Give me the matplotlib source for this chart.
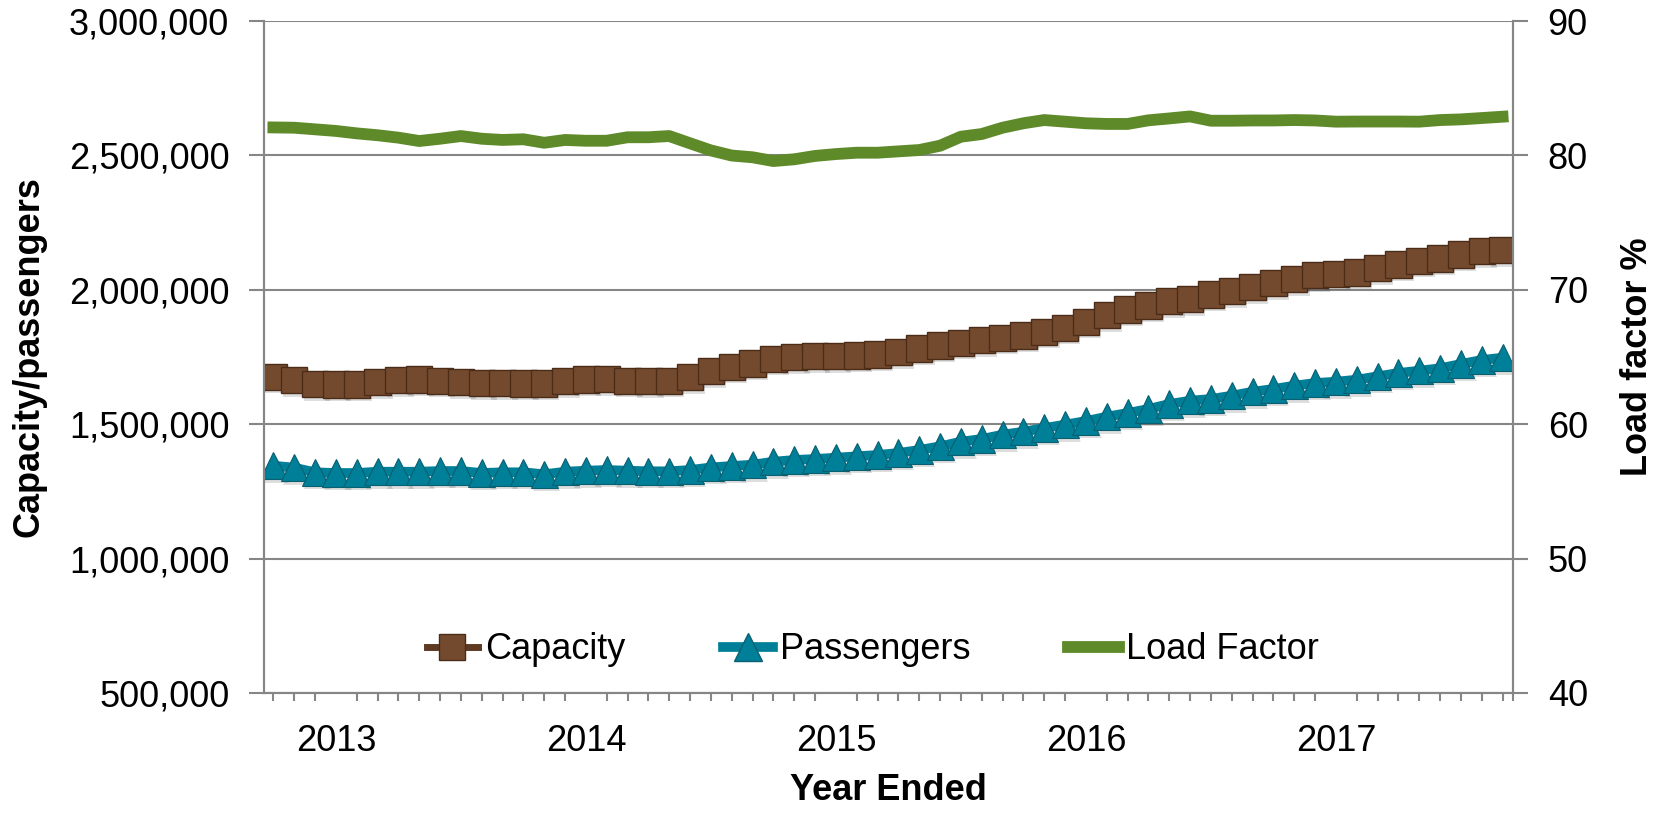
import numpy as np
import pandas as pd
import matplotlib
matplotlib.use("Agg")
import matplotlib.pyplot as plt
import matplotlib.patheffects as pe
from matplotlib.lines import Line2D

plt.rcParams["font.family"] = ["Liberation Sans", "DejaVu Sans"]

# ---------------- Data ----------------
# monthly, year ended Oct 2012 .. Sep 2017
months = pd.date_range("2012-10-01", periods=60, freq="MS")

capacity = [
    1676700, 1664000, 1649500, 1648000, 1648000, 1657000, 1663300, 1665600, 1661800, 1657000,
    1653000, 1653000, 1652000, 1652000, 1659600, 1665600, 1668000, 1661800, 1660700, 1661800,
    1674800, 1697000, 1713500, 1725800, 1743300, 1748900, 1752600, 1752600, 1755600, 1759300,
    1767500, 1780900, 1793500, 1803200, 1813200, 1821800, 1830000, 1843700, 1859000, 1880900,
    1906200, 1926000, 1941600, 1958000, 1966000, 1981800, 1994400, 2010300, 2025200, 2040100,
    2055000, 2059800, 2065000, 2080000, 2094800, 2108200, 2117100, 2132000, 2144300, 2147000,
]

passengers = [
    1345600, 1338100, 1321000, 1318400, 1318400, 1323200, 1323200, 1323200, 1325800, 1325800,
    1318400, 1321000, 1321000, 1313600, 1323200, 1327000, 1329600, 1327000, 1324700, 1324700,
    1329600, 1339000, 1344500, 1349300, 1360400, 1366800, 1370500, 1375300, 1380500, 1385400,
    1392800, 1404000, 1417700, 1434800, 1444900, 1460900, 1472000, 1485800, 1498100, 1511800,
    1527800, 1541600, 1556500, 1575100, 1587400, 1593700, 1606000, 1620800, 1630900, 1643200,
    1653200, 1658000, 1665500, 1678100, 1690400, 1699000, 1707900, 1723900, 1738800, 1747300,
]

load_factor = [
    82.08, 82.06, 81.94, 81.82, 81.64, 81.50, 81.32, 81.07, 81.24, 81.44,
    81.24, 81.15, 81.20, 80.94, 81.15, 81.09, 81.09, 81.35, 81.35, 81.44,
    80.90, 80.37, 79.99, 79.86, 79.58, 79.71, 79.96, 80.10, 80.20, 80.20,
    80.30, 80.40, 80.72, 81.39, 81.59, 82.06, 82.39, 82.63, 82.51, 82.39,
    82.34, 82.34, 82.61, 82.75, 82.90, 82.58, 82.58, 82.60, 82.60, 82.63,
    82.60, 82.51, 82.52, 82.52, 82.52, 82.51, 82.63, 82.68, 82.78, 82.88,
]

left_ticks = [500000, 1000000, 1500000, 2000000, 2500000, 3000000]
right_ticks = [40, 50, 60, 70, 80, 90]

# ---------------- Styles ----------------
BROWN = "#744a2e"
BROWN_EDGE = "#4a2c18"
BROWN_LINE = "#5e3a22"
TEAL = "#007f98"
TEAL_EDGE = "#0a5f70"
GREEN = "#5e8a2a"
GRID = "#868686"
FS = 26

x = np.arange(len(months))

fig = plt.figure(figsize=(16.65, 8.15), dpi=100)
ax = fig.add_axes([264 / 1665, 1 - 693 / 815, 1249 / 1665, 672 / 815])
ax2 = ax.twinx()

# soft drop shadow under the markers
shadow = [pe.SimplePatchShadow(offset=(1.5, -2.5), shadow_rgbFace="k", alpha=0.13), pe.Normal()]

# capacity
ax.plot(x, capacity, color=BROWN_LINE, lw=5, zorder=2)
ax.plot(x, capacity, ls="none", marker="s", ms=19, mfc=BROWN, mec=BROWN_EDGE,
        mew=1.0, zorder=3, path_effects=shadow)

# passengers
ax.plot(x, passengers, color=TEAL, lw=7, zorder=2)
ax.plot(x, passengers, ls="none", marker="^", ms=19.5, mfc=TEAL, mec=TEAL_EDGE,
        mew=0.8, zorder=3, path_effects=shadow)

# load factor
ax2.plot(x, load_factor, color=GREEN, lw=8.5, solid_joinstyle="round", zorder=3)

# ---------------- Axes ----------------
ax.set_ylim(500000, 3000000)
ax.set_yticks(left_ticks)
ax.set_yticklabels([f"{v:,}" for v in left_ticks])
ax2.set_ylim(40, 90)
ax2.set_yticks(right_ticks)
ax2.set_yticklabels([str(v) for v in right_ticks])
ax.set_xlim(-0.45, 59.5)

# year labels at January, monthly minor ticks
jan = [i for i, m in enumerate(months) if m.month == 1]
ax.set_xticks(jan)
ax.set_xticklabels([str(months[i].year) for i in jan])
ax.set_xticks(list(x) + [59.5], minor=True)
ax.tick_params(axis="x", which="major", length=0, pad=22, labelsize=FS)
ax.tick_params(axis="x", which="minor", length=6, width=1.5, color=GRID, direction="out")
ax.tick_params(axis="y", length=11, width=1.5, color=GRID, pad=14, labelsize=FS)
ax2.tick_params(axis="y", length=11, width=1.5, color=GRID, pad=14, labelsize=FS)

ax.grid(axis="y", color=GRID, lw=1.5, zorder=0)
ax.set_axisbelow(True)
for a in (ax, ax2):
    a.spines["top"].set_visible(False)
    for s in ("left", "right", "bottom"):
        a.spines[s].set_color(GRID)
        a.spines[s].set_linewidth(1.5)

fig.text(888 / 1665, 1 - 791 / 815, "Year Ended", ha="center", va="center",
         fontsize=FS, fontweight="bold")
fig.text(29 / 1665, 1 - 357 / 815, "Capacity/passengers", ha="center", va="center",
         rotation=90, fontsize=FS, fontweight="bold")
fig.text(1638 / 1665, 1 - 357 / 815, "Load factor %", ha="center", va="center",
         rotation=90, fontsize=FS, fontweight="bold")

# ---------------- Legend ----------------
handles = [
    Line2D([], [], color=BROWN_LINE, lw=5, marker="s", ms=19, mfc=BROWN, mec=BROWN_EDGE),
    Line2D([], [], color=TEAL, lw=7, marker="^", ms=19.5, mfc=TEAL, mec=TEAL_EDGE),
    Line2D([], [], color=GREEN, lw=8.5),
]
ax2.legend(handles, ["Capacity", "Passengers", "Load Factor"], ncol=3, frameon=False,
           loc="center", bbox_to_anchor=(0.4876, 0.064), fontsize=FS,
           handlelength=1.4, handletextpad=0.2, columnspacing=2.7, borderpad=0)

fig.savefig("out.png", dpi=100)
